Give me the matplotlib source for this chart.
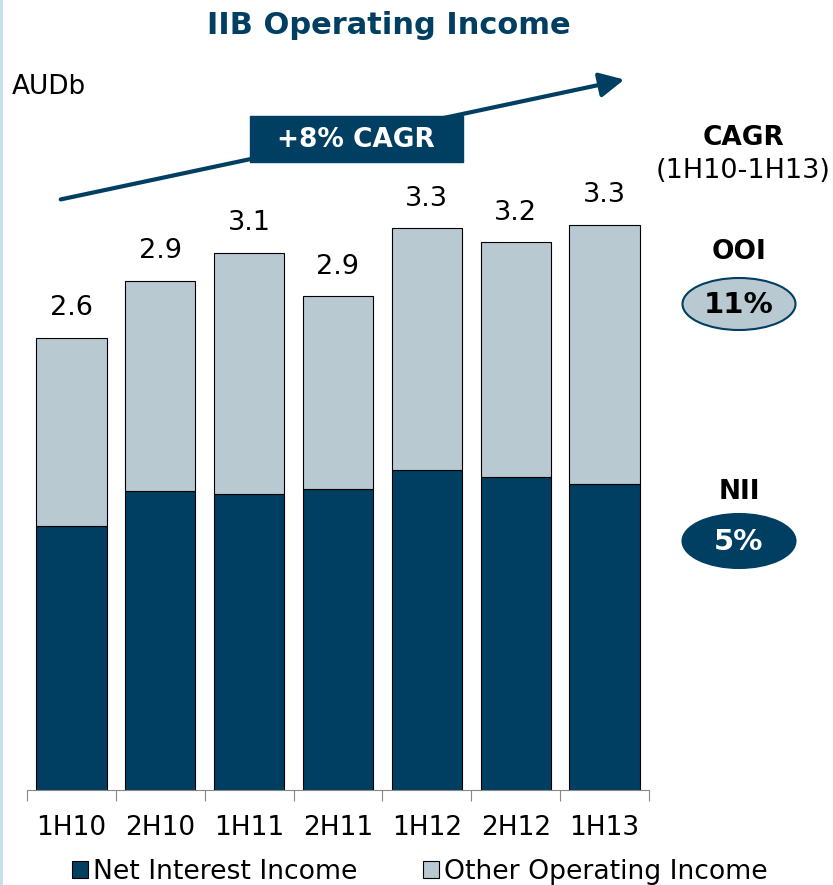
import matplotlib.pyplot as plt
from matplotlib.patches import Ellipse, FancyArrowPatch, Rectangle
from matplotlib.lines import Line2D
import numpy as np

periods = ['1H10', '2H10', '1H11', '2H11', '1H12', '2H12', '1H13']
total = [2.60, 2.93, 3.09, 2.84, 3.23, 3.15, 3.25]
nii = [1.52, 1.72, 1.70, 1.73, 1.84, 1.80, 1.76]
total_labels = ['2.6', '2.9', '3.1', '2.9', '3.3', '3.2', '3.3']
ooi = [t - n for t, n in zip(total, nii)]

navy = '#003F62'
grey_blue = '#B8C9D1'

W, H = 833, 885
fig = plt.figure(figsize=(W / 100, H / 100), dpi=100)


def fx(x):
    return x / W


def fy(y):
    return 1 - y / H


# axes placed in pixel terms: left 27, right 649, bottom 790, top 164
ax = fig.add_axes([fx(27), fy(790), (649 - 27) / W, (790 - 164) / H])
x = np.arange(len(periods))
ax.bar(x, nii, width=0.79, color=navy, edgecolor='black', linewidth=0.8,
       label='Net Interest Income')
ax.bar(x, ooi, bottom=nii, width=0.79, color=grey_blue, edgecolor='black',
       linewidth=0.8, label='Other Operating Income')
for i, t in enumerate(total):
    ax.text(i, t + 0.17, total_labels[i], ha='center', va='center', fontsize=19.5)

ax.set_xlim(-0.5, len(periods) - 0.5)
ax.set_ylim(0, 3.6)
ax.set_yticks([])
for s in ['top', 'right', 'left']:
    ax.spines[s].set_visible(False)
ax.spines['bottom'].set_color('#888888')
ax.set_xticks(np.arange(-0.5, len(periods), 1.0), minor=False)
ax.set_xticklabels([])
ax.tick_params(axis='x', which='major', direction='out', length=8, color='#888888')
ax.set_xticks(x, minor=True)
ax.set_xticklabels(periods, minor=True, fontsize=19)
ax.tick_params(axis='x', which='minor', length=0, pad=18)

# title and unit
fig.text(0.5 * (207 + 570) / W, fy(25), 'IIB Operating Income', ha='center', va='center',
         fontsize=22, fontweight='bold', color=navy)
fig.text(fx(12), fy(87), 'AUDb', ha='left', va='center', fontsize=19)

# CAGR arrow with box
arrow = FancyArrowPatch((fx(58), fy(200)), (fx(627), fy(79)), transform=fig.transFigure,
                        arrowstyle='-|>,head_length=10,head_width=5', color=navy,
                        linewidth=3, mutation_scale=1.5)
fig.add_artist(arrow)
fig.add_artist(Rectangle((fx(250), fy(162)), (463 - 250) / W, (162 - 116) / H,
                         transform=fig.transFigure, fc=navy, ec=navy))
fig.text(fx(356), fy(140), '+8% CAGR', ha='center', va='center', fontsize=19,
         fontweight='bold', color='white')

# CAGR side panel
fig.text(fx(743), fy(138), 'CAGR', ha='center', va='center', fontsize=19, fontweight='bold')
fig.text(fx(743), fy(171), '(1H10-1H13)', ha='center', va='center', fontsize=19.5)
fig.text(fx(739), fy(252), 'OOI', ha='center', va='center', fontsize=19, fontweight='bold')
fig.add_artist(Ellipse((fx(739), fy(304)), 113 / W, 52 / H, transform=fig.transFigure,
                       fc=grey_blue, ec=navy, lw=1.5))
fig.text(fx(739), fy(305), '11%', ha='center', va='center', fontsize=21, fontweight='bold')
fig.text(fx(739), fy(492), 'NII', ha='center', va='center', fontsize=19, fontweight='bold')
fig.add_artist(Ellipse((fx(739), fy(541)), 113 / W, 54 / H, transform=fig.transFigure,
                       fc=navy, ec=navy, lw=1.5))
fig.text(fx(739), fy(542), '5%', ha='center', va='center', fontsize=21, fontweight='bold',
         color='white')

# legend
fig.legend(loc='center', bbox_to_anchor=(fx(420), fy(872)), ncol=2, frameon=False,
           fontsize=19.2, handlelength=0.6, handleheight=0.6, handletextpad=0.2,
           columnspacing=2.45, borderaxespad=0)

# light left border
fig.add_artist(Line2D([fx(1), fx(1)], [0, 1], transform=fig.transFigure,
                      color='#C5DCEB', linewidth=2))

fig.savefig('out.png', dpi=100)
